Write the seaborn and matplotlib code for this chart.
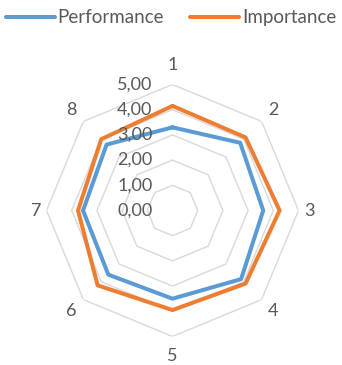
import numpy as np
import pandas as pd
import matplotlib
matplotlib.use("Agg")
import matplotlib.pyplot as plt
import seaborn as sns

categories = ["1", "2", "3", "4", "5", "6", "7", "8"]
performance = [3.30, 3.80, 3.60, 3.85, 3.50, 3.60, 3.55, 3.70]
importance = [4.15, 4.10, 4.25, 4.10, 3.95, 4.20, 3.75, 4.00]
series_names = ["Performance", "Importance"]
radial_ticks = [0, 1, 2, 3, 4, 5]

colors = {"Performance": "#5b9bd5", "Importance": "#ed7d31"}
text_color = "#595959"
grid_color = "#d9d9d9"

sns.set_theme(style="white")
plt.rcParams["font.family"] = ["Lato", "DejaVu Sans"]

n = len(categories)
theta = np.linspace(0, 2 * np.pi, n, endpoint=False)
theta_closed = np.append(theta, theta[0] + 2 * np.pi)

rows = []
for name, vals in zip(series_names, [performance, importance]):
    closed = list(vals) + [vals[0]]
    for t, v in zip(theta_closed, closed):
        rows.append({"Series": name, "theta": t, "value": v})
df = pd.DataFrame(rows)

W, H, DPI = 342, 365, 100
fig = plt.figure(figsize=(W / DPI, H / DPI), dpi=DPI)
cx, cy, R = 172.5, 365 - 210.5, 126
ax = fig.add_axes([(cx - R) / W, (cy - R) / H, 2 * R / W, 2 * R / H], projection="polar")
ax.set_theta_zero_location("N")
ax.set_theta_direction(-1)
ax.set_ylim(0, 5)
ax.set_xticks([])
ax.set_yticks([])
ax.grid(False)
ax.spines["polar"].set_visible(False)
ax.patch.set_alpha(0)

# octagonal gridlines
for r in radial_ticks[1:]:
    ax.plot(theta_closed, [r] * len(theta_closed), color=grid_color, lw=1.0, zorder=1)

sns.lineplot(data=df, x="theta", y="value", hue="Series", sort=False, estimator=None,
             palette=colors, linewidth=2.9, ax=ax, legend=False, zorder=3)
ax.set_xlabel("")
ax.set_ylabel("")

# category labels around the web
for t, lab in zip(theta, categories):
    r = 5.42 + 0.35 * abs(np.cos(t))
    ax.text(t, r, lab, ha="center", va="center", fontsize=13, color=text_color)

# value labels in a column left of the first spoke
for r in radial_ticks:
    ax.annotate(f"{r:.2f}".replace(".", ","), xy=(0, r), xycoords="data",
                xytext=(-20, 0), textcoords="offset pixels",
                ha="right", va="center", fontsize=13, color=text_color)

handles = [plt.Line2D([], [], color=colors[s], lw=2.9) for s in series_names]
fig.legend(handles, series_names, loc="upper center", bbox_to_anchor=(0.5, 1.0),
           borderaxespad=0.1, ncol=2, frameon=False, fontsize=13.5,
           labelcolor=text_color, handlelength=2.6, handletextpad=0.15,
           columnspacing=1.4)

fig.savefig("out.png", dpi=DPI)
